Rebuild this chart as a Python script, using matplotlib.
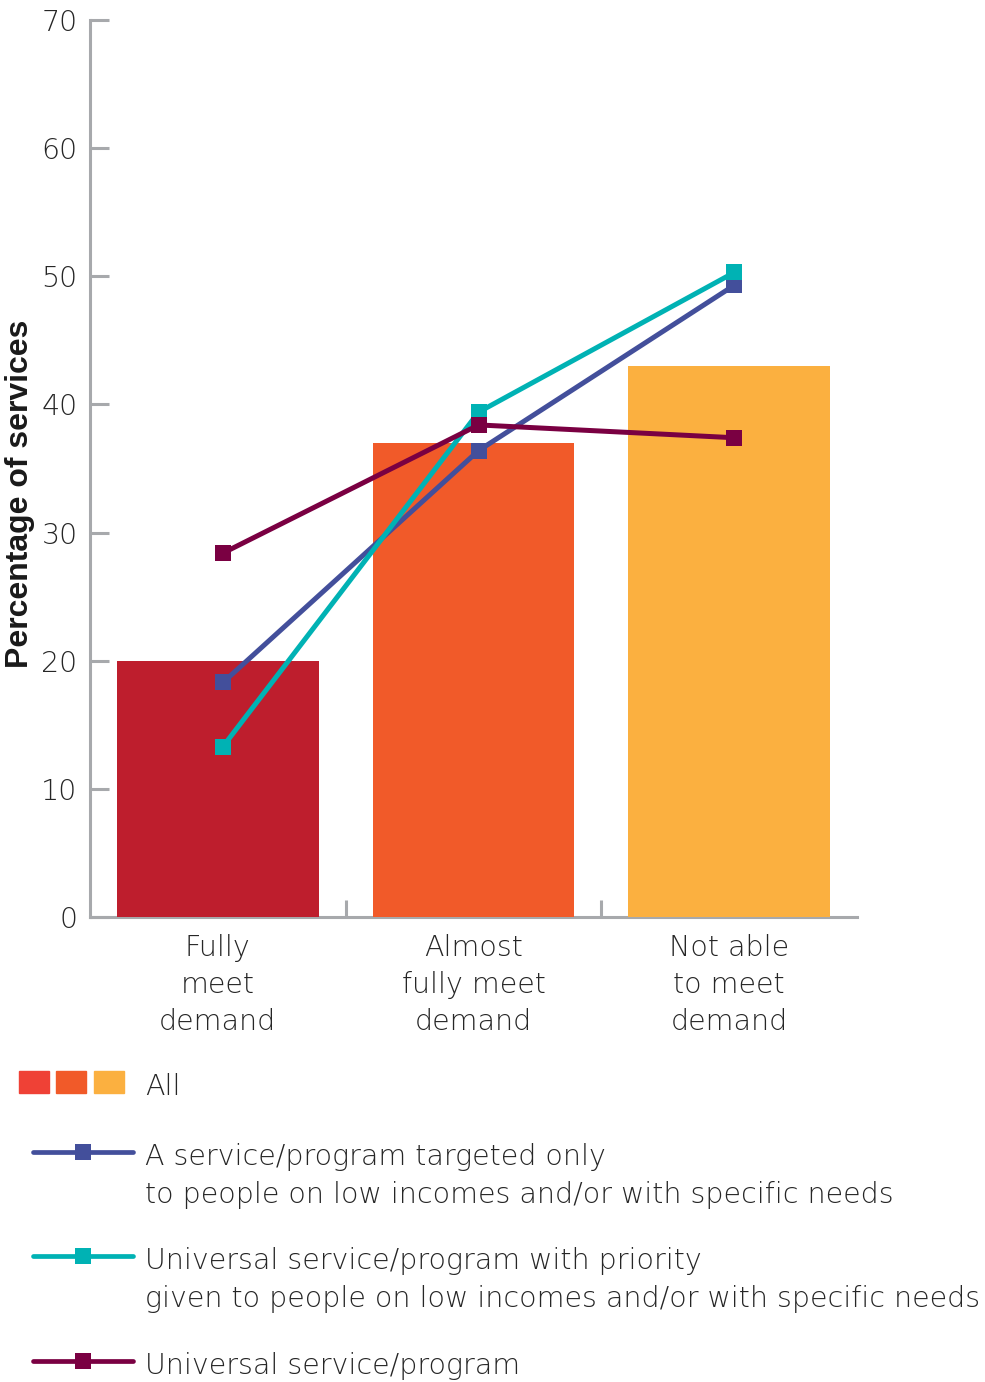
import numpy as np
import matplotlib
matplotlib.use('Agg')
import matplotlib.pyplot as plt
from matplotlib.lines import Line2D
from matplotlib.patches import Rectangle

# Data
categories = ['Fully\nmeet\ndemand', 'Almost\nfully meet\ndemand', 'Not able\nto meet\ndemand']
all_services = [20, 37, 43]
targeted = [18.3, 36.4, 49.3]
universal_priority = [13.3, 39.4, 50.3]
universal = [28.4, 38.4, 37.4]

bar_colors = ['#BE1E2D', '#F15A29', '#FBB040']
swatch_colors = ['#EF4136', '#F15A29', '#FBB040']
line_colors = ['#434F9B', '#00B2B4', '#7A0042']
line_labels = ['A service/program targeted only\nto people on low incomes and/or with specific needs',
               'Universal service/program with priority\ngiven to people on low incomes and/or with specific needs',
               'Universal service/program']

grey = '#A7A9AC'
txt = '#262626'
plt.rcParams['font.family'] = ['DejaVu Sans']
plt.rcParams['font.weight'] = 200

W, H = 985, 1382
fig = plt.figure(figsize=(W / 100, H / 100), dpi=100)

def fx(px):
    return px / W

def fy(py):
    return 1 - py / H

ax = fig.add_axes([fx(90), fy(917), fx(857) - fx(90), fy(20) - fy(917)])

x = np.arange(len(categories))
ax.bar(x, all_services, width=0.79, color=bar_colors, zorder=3)

series = [targeted, universal_priority, universal]
for vals, col in zip(series, line_colors):
    ax.plot(x + 0.02, vals, color=col, lw=3.6, marker='s', markersize=12,
            markeredgewidth=0, zorder=4)

ax.set_xlim(-0.5, 2.5)
ax.set_ylim(0, 70)
ax.set_yticks(np.arange(0, 71, 10))
ax.tick_params(axis='y', direction='in', length=14, width=2.2, color=grey,
               labelsize=20.5, labelcolor=txt, pad=9)
ax.set_xticks(x)
ax.set_xticklabels(categories, fontsize=20.5, color=txt, linespacing=1.42)
ax.tick_params(axis='x', which='major', length=0, pad=12)
ax.set_xticks([0.5, 1.5], minor=True)
ax.tick_params(axis='x', which='minor', direction='in', length=12, width=2.2, color=grey)

for s in ['top', 'right']:
    ax.spines[s].set_visible(False)
for s in ['left', 'bottom']:
    ax.spines[s].set_color(grey)
    ax.spines[s].set_linewidth(2.2)

fig.text(fx(20), fy(494), 'Percentage of services', rotation=90, ha='center', va='center',
         fontsize=23, fontweight='bold', family='Liberation Sans', color='#1A1A1A')

# Legend: bar swatches
for px, col in zip([19, 56, 94], swatch_colors):
    fig.add_artist(Rectangle((fx(px), fy(1093)), fx(30), 22 / H,
                             transform=fig.transFigure, color=col))
fig.text(fx(145), fy(1095), 'All', fontsize=20.5, color=txt, va='baseline')

# Legend: lines
for ly, col, lab in zip([1152, 1256, 1361], line_colors, line_labels):
    fig.add_artist(Line2D([fx(33), fx(133)], [fy(ly), fy(ly)], transform=fig.transFigure,
                          color=col, lw=3.4, solid_capstyle='round'))
    fig.add_artist(Line2D([fx(83)], [fy(ly)], transform=fig.transFigure,
                          color=col, marker='s', markersize=12, markeredgewidth=0))
    for i, line in enumerate(lab.split('\n')):
        fig.text(fx(145), fy(ly + 13 + 38 * i), line, fontsize=20.5, color=txt, va='baseline')

fig.savefig('out.png', dpi=100)
